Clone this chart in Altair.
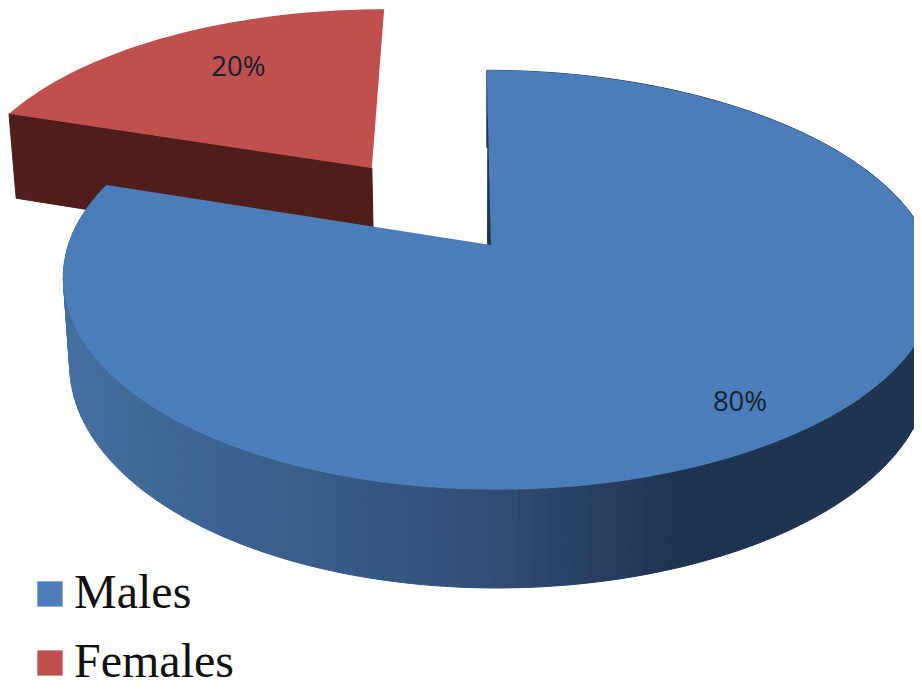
import math
import altair as alt

categories = ["Males", "Females"]
shares = [80, 20]
top_colors = ["#4b7dba", "#c0504d"]
wall_dark_red = "#4f1d1a"
wall_stops = [(60, "#44709f"), (200, "#3d6492"), (350, "#365a85"), (480, "#304f76"), (600, "#273e5f"), (680, "#1f3452"), (925, "#1f3550")]
label_color = "#15202e"

# Perspective of the pie's plane on the page
X0, Y0, SPREAD, SHEAR = 491.0, 245.0, 430.0, -5.0
DEPTH_SLOPE, SKEW, Y_SLOPE = 1 / 6, -0.0174, -163.0
BOTTOM_Y0, BOTTOM_SLOPE, BOTTOM_SPREAD = 331.0, -159.0, 0.985
EXPLODE = 0.4975
FEMALE_RADIUS = 1.03
FEMALE_EXTRA_DEPTH = 5.0


def project(u, v, bottom=False, extra=0.0):
    d = 1 + DEPTH_SLOPE * v
    spread = SPREAD * (BOTTOM_SPREAD if bottom else 1.0)
    x = X0 + (spread * u + SHEAR * v) / (d + SKEW * u)
    y = ((BOTTOM_Y0 + BOTTOM_SLOPE * v) if bottom else (Y0 + Y_SLOPE * v)) / d
    return [round(x, 2), round(y + extra, 2)]


def rim(deg, ou=0.0, ov=0.0, r=1.0):
    a = math.radians(deg)
    return ou - r * math.sin(a), ov + r * math.cos(a)


def feature(ring, **props):
    if ring[0] != ring[-1]:
        ring = ring + [ring[0]]
    return {"type": "Feature", "geometry": {"type": "Polygon", "coordinates": [ring]}, "properties": props}


def blend(x):
    for (x1, c1), (x2, c2) in zip(wall_stops, wall_stops[1:]):
        if x <= x2:
            t = max(0.0, (x - x1) / (x2 - x1))
            a = [int(c1[i:i + 2], 16) for i in (1, 3, 5)]
            b = [int(c2[i:i + 2], 16) for i in (1, 3, 5)]
            return "#" + "".join(f"{round(p + (q - p) * t):02x}" for p, q in zip(a, b))
    return wall_stops[-1][1]


female_end = shares[1] / sum(shares) * 360
eu, ev = rim(female_end / 2, r=EXPLODE)
male_arc = [female_end + (360 - female_end) * i / 180 for i in range(181)]
female_arc = [female_end * i / 40 for i in range(41)]

male_top = feature([project(0, 0)] + [project(*rim(d)) for d in male_arc], series=categories[0])
female_top = feature(
    [project(eu, ev)] + [project(*rim(d, eu, ev, FEMALE_RADIUS)) for d in female_arc],
    series=categories[1],
)

lu, lv = rim(female_end, eu, ev, FEMALE_RADIUS)
female_wall = feature(
    [
        project(eu, ev),
        project(lu, lv),
        project(lu, lv, True, FEMALE_EXTRA_DEPTH),
        project(eu, ev, True, FEMALE_EXTRA_DEPTH),
    ],
    color=wall_dark_red,
)

male_walls = []
for d1, d2 in zip(male_arc, male_arc[1:]):
    p1, p2 = rim(d1), rim(d2)
    ring = [project(*p1), project(*p2), project(*p2, True), project(*p1, True)]
    male_walls.append(feature(ring, color=blend((ring[0][0] + ring[1][0]) / 2)))

inner_sliver = feature([project(0, 0.7), project(0, 0), project(-0.008, 0)], color="#1f3550")

male_label = rim(female_end + (360 - female_end) / 2, r=0.85)
female_label = rim(female_end * 0.45, eu, ev, r=0.727)
labels = []
for name, share, pos in zip(categories, shares, [male_label, female_label]):
    lon, lat = project(*pos)
    labels.append({"series": name, "label": f"{share}%", "lon": lon, "lat": lat})


def on_page(chart):
    return chart.project(type="identity", scale=1, translate=[-8, -8])


def painted(features):
    return on_page(
        alt.Chart(alt.Data(values=features))
        .mark_geoshape(strokeWidth=1)
        .encode(
            fill=alt.Fill("properties.color:N", scale=None, legend=None),
            stroke=alt.Stroke("properties.color:N", scale=None, legend=None),
        )
    )


def faces(features):
    return on_page(
        alt.Chart(alt.Data(values=features))
        .mark_geoshape(strokeWidth=0)
        .encode(
            color=alt.Color(
                "properties.series:N",
                scale=alt.Scale(domain=categories, range=top_colors),
                legend=alt.Legend(
                    title=None,
                    orient="none",
                    legendX=18,
                    legendY=562,
                    symbolType="square",
                    symbolSize=640,
                    symbolStrokeWidth=0,
                    labelFont="Liberation Serif",
                    labelFontSize=48,
                    labelColor="#111111",
                    labelLimit=400,
                    labelOffset=0,
                    rowPadding=21,
                ),
            )
        )
    )


text = on_page(
    alt.Chart(alt.Data(values=labels))
    .mark_text(font="Open Sans", fontSize=27.5, color=label_color)
    .encode(longitude="lon:Q", latitude="lat:Q", text="label:N")
)

chart = (
    alt.layer(
        painted([female_wall]),
        faces([female_top]),
        painted(male_walls + [inner_sliver]),
        faces([male_top]),
        text,
    )
    .properties(width=906, height=673, padding=0, background="white")
    .configure_view(stroke=None)
)

chart.save("out.html", embed_options={"renderer": "svg", "actions": False})
